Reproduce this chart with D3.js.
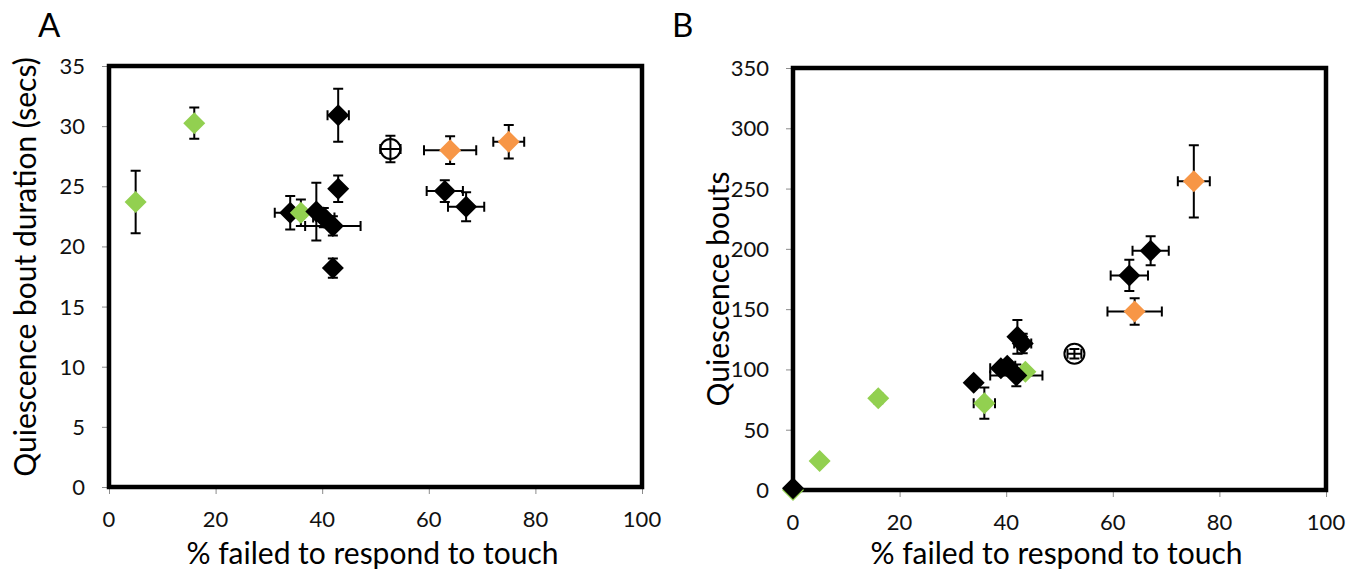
<!DOCTYPE html>
<html>
<head>
<meta charset="utf-8">
<script src="https://cdn.jsdelivr.net/npm/d3@7"></script>
<style>
  body { margin: 0; background: #fff; }
  svg { display: block; font-family: Lato, "Open Sans", sans-serif; }
</style>
</head>
<body>
<svg id="chart" width="1356" height="576"></svg>
<script>
// tick values
const xTicks = [0, 20, 40, 60, 80, 100];
const yTicksA = [0, 5, 10, 15, 20, 25, 30, 35];
const yTicksB = [0, 50, 100, 150, 200, 250, 300, 350];

// group -> marker colour
const groupColors = { green: "#92D050", black: "#000000", orange: "#F79646", open: "none" };

// panel A: % failed to respond vs bout duration (secs), x/y error in data units
const pointsA = [
  { g: "green", x: 5, y: 23.7, xe: 0, ye: 2.6 },
  { g: "green", x: 16, y: 30.25, xe: 0, ye: 1.3 },
  { g: "black", x: 34, y: 22.8, xe: 2.9, ye: 1.4 },
  { g: "green", x: 36, y: 22.8, xe: 0, ye: 1.1 },
  { g: "black", x: 38.9, y: 22.9, xe: 0, ye: 2.4 },
  { g: "black", x: 40.3, y: 22.4, xe: 2, ye: 0.8 },
  { g: "black", x: 42, y: 21.7, xe: 5.2, ye: 0.8 },
  { g: "black", x: 42, y: 18.2, xe: 0.4, ye: 0.8 },
  { g: "black", x: 43, y: 24.8, xe: 0.4, ye: 1.1 },
  { g: "black", x: 43, y: 30.9, xe: 2, ye: 2.2 },
  { g: "black", x: 63, y: 24.6, xe: 3.4, ye: 0.9 },
  { g: "black", x: 67, y: 23.3, xe: 3.4, ye: 1.2 },
  { g: "open", x: 52.8, y: 28.1, xe: 1.9, ye: 1.1 },
  { g: "orange", x: 64, y: 28.0, xe: 4.9, ye: 1.15 },
  { g: "orange", x: 75, y: 28.7, xe: 2.9, ye: 1.4 }
];

// panel B: % failed to respond vs number of quiescence bouts
const pointsB = [
  { g: "green", x: 0, y: 0, xe: 0, ye: 0 },
  { g: "black", x: 0, y: 1.5, xe: 0, ye: 0 },
  { g: "green", x: 5, y: 24, xe: 0, ye: 0 },
  { g: "green", x: 16, y: 76, xe: 0.6, ye: 4 },
  { g: "green", x: 35.9, y: 72, xe: 2, ye: 13 },
  { g: "black", x: 33.9, y: 89, xe: 0, ye: 3 },
  { g: "black", x: 39, y: 101, xe: 2, ye: 3 },
  { g: "black", x: 40.2, y: 103, xe: 1.5, ye: 4 },
  { g: "green", x: 43.6, y: 98, xe: 0, ye: 0 },
  { g: "black", x: 41.9, y: 95, xe: 4.9, ye: 9 },
  { g: "black", x: 42.1, y: 127, xe: 0, ye: 14 },
  { g: "black", x: 43.1, y: 121.5, xe: 1.6, ye: 8 },
  { g: "black", x: 63.1, y: 178, xe: 3.5, ye: 13 },
  { g: "black", x: 67.1, y: 198.5, xe: 3.4, ye: 12 },
  { g: "open", x: 52.8, y: 113, xe: 1.3, ye: 4 },
  { g: "orange", x: 64.1, y: 148, xe: 5.1, ye: 11 },
  { g: "orange", x: 75.2, y: 256, xe: 3, ye: 30 }
];

const svg = d3.select("#chart");

function drawPanel(opt) {
  const x = d3.scaleLinear().domain([0, 100]).range([opt.left, opt.right]);
  const y = d3.scaleLinear().domain(opt.yDomain).range([opt.bottom, opt.top]);
  const g = svg.append("g");

  // gray outward ticks
  g.append("g")
    .attr("transform", `translate(0,${opt.bottom})`)
    .call(d3.axisBottom(x).tickValues(xTicks).tickSize(7).tickFormat(""))
    .call(a => a.select(".domain").remove())
    .call(a => a.selectAll("line").attr("stroke", "#8c8c8c"));
  g.append("g")
    .attr("transform", `translate(${opt.left},0)`)
    .call(d3.axisLeft(y).tickValues(opt.yTicks).tickSize(7).tickFormat(""))
    .call(a => a.select(".domain").remove())
    .call(a => a.selectAll("line").attr("stroke", "#8c8c8c"));

  // tick labels
  g.selectAll(".xlab").data(xTicks).enter().append("text")
    .attr("x", d => x(d)).attr("y", opt.bottom + 40)
    .attr("text-anchor", "middle").attr("font-size", 22).attr("fill", "#111")
    .text(d => d);
  g.selectAll(".ylab").data(opt.yTicks).enter().append("text")
    .attr("x", opt.left - 24).attr("y", d => y(d) + 8)
    .attr("text-anchor", "end").attr("font-size", 22).attr("fill", "#111")
    .text(d => d);

  // plot frame
  g.append("rect")
    .attr("x", opt.left).attr("y", opt.top)
    .attr("width", opt.right - opt.left).attr("height", opt.bottom - opt.top)
    .attr("fill", "none").attr("stroke", "#000").attr("stroke-width", 4.5);

  // titles
  g.append("text")
    .attr("x", (opt.left + opt.right) / 2 - 3).attr("y", 564)
    .attr("text-anchor", "middle").attr("font-size", 30)
    .text("% failed to respond to touch");
  g.append("text")
    .attr("transform", `translate(${opt.yTitleX},${opt.yTitleY}) rotate(-90)`)
    .attr("text-anchor", "middle").attr("font-size", 30)
    .text(opt.yTitle);
  g.append("text")
    .attr("x", opt.letterX).attr("y", 37)
    .attr("font-size", 33)
    .text(opt.letter);

  // error bars (drawn beneath the markers)
  const cap = 5;
  const bars = g.append("g").attr("stroke", "#000").attr("stroke-width", 2).attr("fill", "none");
  opt.points.forEach(p => {
    const cx = x(p.x), cy = y(p.y);
    if (p.ye > 0) {
      const y0 = y(p.y - p.ye), y1 = y(p.y + p.ye);
      bars.append("path").attr("d",
        `M${cx},${y0}V${y1}M${cx - cap},${y0}H${cx + cap}M${cx - cap},${y1}H${cx + cap}`);
    }
    if (p.xe > 0) {
      const x0 = x(p.x - p.xe), x1 = x(p.x + p.xe);
      bars.append("path").attr("d",
        `M${x0},${cy}H${x1}M${x0},${cy - cap}V${cy + cap}M${x1},${cy - cap}V${cy + cap}`);
    }
  });

  // markers
  const r = 11;
  g.selectAll(".pt").data(opt.points).enter().append("path")
    .attr("transform", d => `translate(${x(d.x)},${y(d.y)})`)
    .attr("d", d => d.g === "open"
      ? d3.arc()({ innerRadius: 0, outerRadius: 10, startAngle: 0, endAngle: 2 * Math.PI })
      : `M0,${-r}L${r},0L0,${r}L${-r},0Z`)
    .attr("fill", d => groupColors[d.g])
    .attr("stroke", d => d.g === "open" ? "#000" : "none")
    .attr("stroke-width", 2);
}

drawPanel({
  left: 109, right: 642, top: 66, bottom: 487,
  yDomain: [0, 35], yTicks: yTicksA, points: pointsA,
  yTitle: "Quiescence bout duration (secs)", yTitleX: 36, yTitleY: 267,
  letter: "A", letterX: 38
});

drawPanel({
  left: 793, right: 1326, top: 68, bottom: 490,
  yDomain: [0, 350], yTicks: yTicksB, points: pointsB,
  yTitle: "Quiescence bouts", yTitleX: 729, yTitleY: 289,
  letter: "B", letterX: 672
});
</script>
</body>
</html>
